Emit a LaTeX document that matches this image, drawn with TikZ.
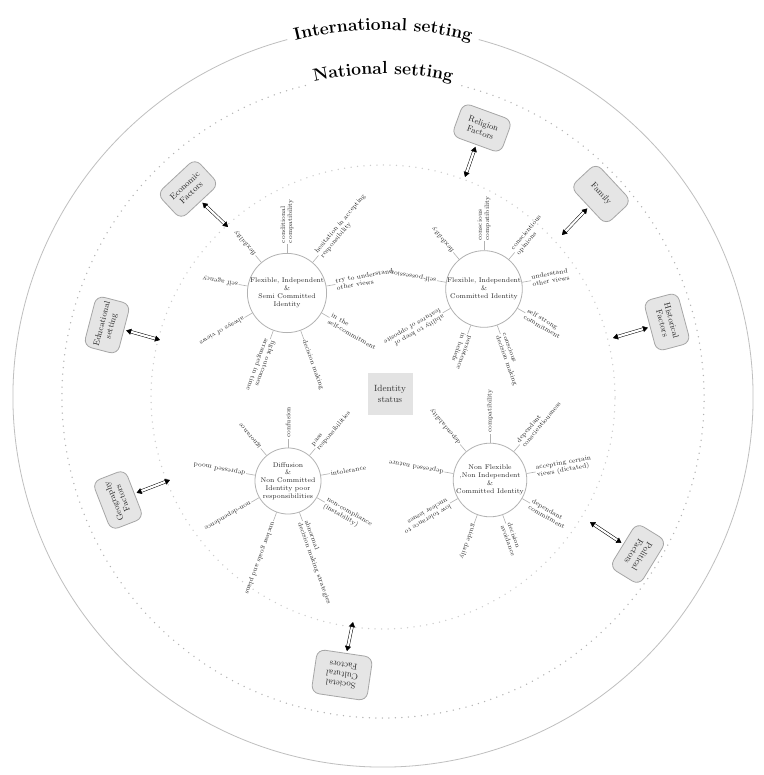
\documentclass[tikz,border=0pt]{standalone}
\usepackage{fontspec}
\usetikzlibrary{arrows.meta,decorations.text}
\begin{document}
\begin{tikzpicture}[x=1pt,y=1pt,
  hubc/.style={circle, draw=gray!60, line width=0.8pt, minimum size=66pt, inner sep=0pt, align=center, text=black!85, font=\fontsize{6.8}{7.8}\selectfont},
  spoke/.style={draw=gray!60, line width=0.6pt},
  slabel/.style={anchor=west, inner sep=0.6pt, align=left, text=black!85, font=\fontsize{6.6}{7.2}\selectfont},
  factor/.style={draw=gray!70, fill=gray!20, rounded corners=8pt, line width=0.8pt, minimum width=52pt, minimum height=35pt, align=center, inner sep=1pt, text=black!85, font=\fontsize{8.5}{9.5}\selectfont},
  link/.style={double=white, double distance=2.2pt, line width=0.5pt, {Triangle[length=5pt,width=6pt]}-{Triangle[length=5pt,width=6pt]}, shorten <=2pt},
  dots/.style={line width=1.5pt, line cap=round, dash pattern=on 0pt off 6.5pt},
]
\useasboundingbox[fill=white] (-383,-378) rectangle (380,397);

% settings circles
\draw[gray!50, line width=0.8pt] (105:370) arc[start angle=105, end angle=435, radius=370];
\path[decorate, decoration={text along path, text align=center, text={|\fontsize{17.5}{18}\bfseries\selectfont|International setting}}] (108:367) arc[start angle=108, end angle=72, radius=367];
\draw[dots, gray!60] (104:321) arc[start angle=104, end angle=436, radius=321];
\path[decorate, decoration={text along path, text align=center, text={|\fontsize{17.5}{18}\bfseries\selectfont|National setting}}] (110:323) arc[start angle=110, end angle=70, radius=323];
\draw[dots, gray!40] (0,0) circle[radius=232];

% centre
\node[fill=gray!22, minimum width=45pt, minimum height=42pt, align=center, text=black!80, font=\fontsize{9}{11}\selectfont] (id) at (7,3) {Identity\\status};

% hubs
\node[hubc] (h1) at (-96,104) {Flexible, Independent\\\&\\Semi Committed\\Identity};
\node[hubc] (h2) at (101,108) {Flexible, Independent\\\&\\Committed Identity};
\node[hubc] (h3) at (-95,-84) {Diffusion\\\&\\Non Committed\\Identity poor\\responsibilities};
\node[hubc, minimum size=70pt] (h4) at (107,-83) {Non Flexible\\,Non Independent\\\&\\Committed Identity};

\foreach \a/\t in {90/{conditional\\compatibility}, 50/{hesitation in accepting\\responsibility}, 10/{try to understand\\other views}, -30/{in the\\self-commitment}, -70/{decision making}, -110/{fight outcomes\\arranged in time}, -150/{always of views}, 170/{self agency}, 130/{flexibility}}
  \draw[spoke] (h1.\a) -- ++(\a:9) node[slabel, rotate=\a] {\t};

\foreach \a/\t in {90/{conscious\\compatibility}, 50/{conscientious\\opinions}, 10/{understand\\other views}, -30/{self strong\\commitment}, -70/{conscious\\decision making}, -110/{persistence\\in beliefs}, -150/{ability to keep of\\features of opposite}, 170/{self-possession}, 130/{flexibility}}
  \draw[spoke] (h2.\a) -- ++(\a:9) node[slabel, rotate=\a] {\t};

\foreach \a/\t in {90/{confusion}, 50/{pass\\responsibilities}, 10/{intolerance}, -30/{non-compliance\\(instability)}, -70/{abnormal\\decision making strategies}, -110/{unclear goals and plans}, -150/{non-dependence}, 170/{depressed mood}, 130/{ignorance}}
  \draw[spoke] (h3.\a) -- ++(\a:9) node[slabel, rotate=\a] {\t};

\foreach \a/\t in {90/{compatibility}, 50/{dependant\\conscientiousness}, 10/{accepting certain\\views (dictated)}, -30/{dependant\\commitment}, -70/{decision\\avoidance}, -110/{guide daily}, -150/{low tolerance to\\unclear issues}, 170/{depressed nature}, 130/{dependability}}
  \draw[spoke] (h4.\a) -- ++(\a:9) node[slabel, rotate=\a] {\t};

% factors
\node[factor, rotate=43] (econ) at (-195,208) {Economic\\Factors};
\node[factor, rotate=-20] (relig) at (99,269) {Religion\\Factors};
\node[factor, rotate=-47] (fam) at (218,203) {Family};
\node[factor, rotate=-75] (hist) at (284,75) {Historical\\Factors};
\node[factor, rotate=-121.6] (pol) at (255,-157) {Political\\Factors};
\node[factor, rotate=171.6, minimum width=56pt, minimum height=44pt] (soc) at (-41,-278) {Societal\\Cultural\\Factors};
\node[factor, rotate=111.2] (geo) at (-265,-103) {Geography\\Factors};
\node[factor, rotate=75.4] (edu) at (-276,72) {Educational\\setting};

\coordinate (econE) at (-155,170);
\coordinate (religE) at (82,220);
\coordinate (famE) at (179,162);
\coordinate (histE) at (230,59);
\coordinate (polE) at (207,-125);
\coordinate (socE) at (-30,-225);
\coordinate (geoE) at (-213,-83);
\coordinate (eduE) at (-223,57);

\foreach \n in {econ,relig,fam,hist,pol,soc,geo,edu}
  \draw[link] (\n) -- (\n E);
\end{tikzpicture}
\end{document}
